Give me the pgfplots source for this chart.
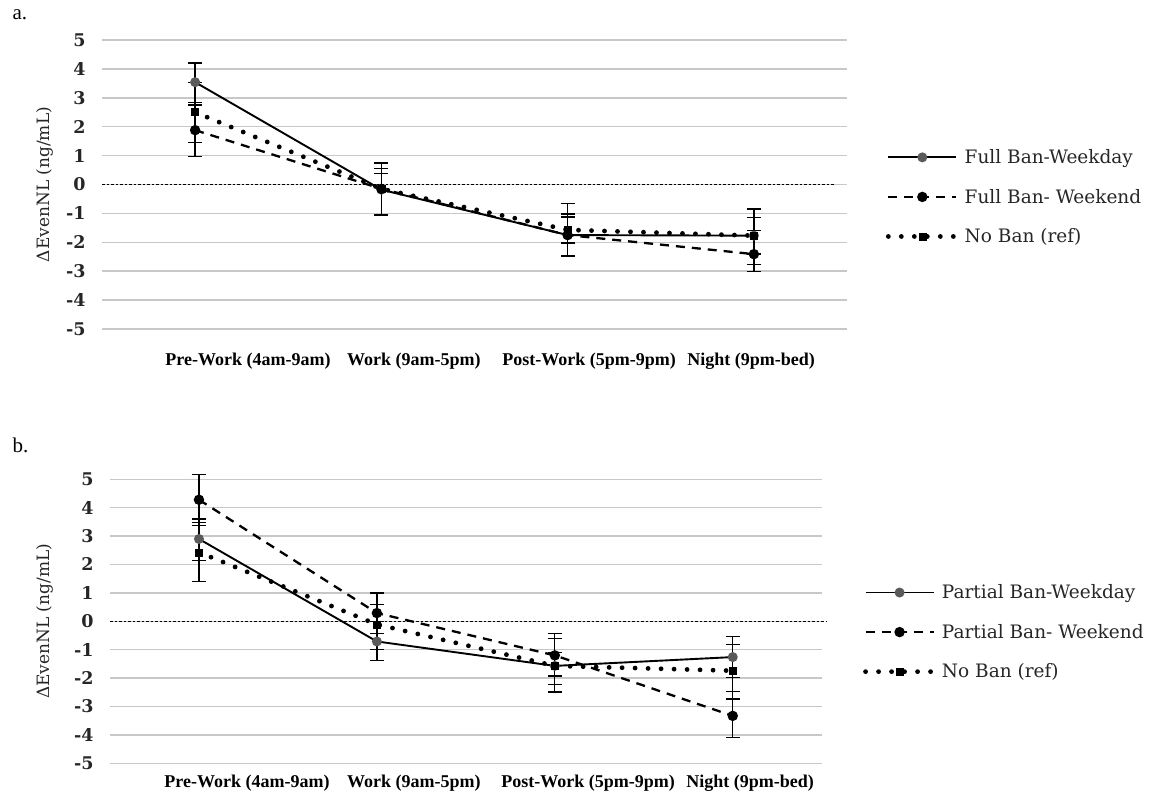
\documentclass[border=0pt]{standalone}
\usepackage{pgfplots}
\pgfplotsset{compat=1.18}
\usepackage{fontspec}
\setmainfont{Liberation Serif}
\newfontfamily\slab{DejaVu Serif}

\definecolor{gridgray}{HTML}{C8C8C8}
\definecolor{markgray}{HTML}{5A5A5A}

\pgfplotsset{
  panel/.style={
    scale only axis,
    clip=false,
    xmin=-0.5, xmax=3.5, ymin=-5, ymax=5,
    axis line style={draw=none},
    tick style={draw=none},
    ymajorgrids,
    grid style={gridgray, line width=1.5pt},
    ytick={-5,-4,...,5},
    /pgf/number format/assume math mode=true,
    yticklabel style={font=\slab\bfseries\fontsize{17.5}{17.5}\selectfont, text=black!85, anchor=east, xshift=-13pt},
    xticklabel style={font=\bfseries\fontsize{18}{18}\selectfont, anchor=center},
    xticklabels={Pre-Work (4am-9am), Work (9am-5pm), Post-Work (5pm-9pm), Night (9pm-bed)},
    ylabel={ΔEvenNL (ng/mL)},
    ylabel style={font=\slab\fontsize{17}{17}\selectfont, text=black!85, anchor=center},
    legend cell align=left,
    legend image code/.code={\draw[mark repeat=2,mark phase=2] plot coordinates {(0pt,0pt) (34pt,0pt) (68pt,0pt)};
      \path (72pt,0pt);},
    legend style={draw=none, fill=none, anchor=west, inner sep=0pt,
      font=\slab\fontsize{18.5}{18.5}\selectfont, text=black!85, row sep=20pt},
    error bars/y dir=both,
    error bars/y explicit,
    error bars/error bar style={solid, black, line width=1.3pt, line cap=butt},
    error bars/error mark options={solid, black, rotate=90, mark size=7pt, line width=1.3pt},
  },
  weekday/.style={black, line width=1.9pt, mark=*, mark size=4pt,
    mark options={solid, fill=markgray, draw=markgray}},
  weekend/.style={black, line width=2.3pt, dash pattern=on 9pt off 7pt, mark=*, mark size=4pt,
    mark options={solid, fill=black, draw=black}},
  noban/.style={black, line width=4.8pt, line cap=round, dash pattern=on 0pt off 13pt,
    mark=square*, mark size=3.5pt, mark options={solid, fill=black, draw=black, line width=0.5pt}},
  zeroline/.style={black, line width=0.9pt, dash pattern=on 2.5pt off 2pt, forget plot},
}

\begin{document}
\begin{tikzpicture}
\path[use as bounding box] (0pt,0pt) rectangle (1157pt,-799pt);

\node[anchor=base west, font=\fontsize{21}{21}\selectfont] at (9pt,-20pt) {a.};
\node[anchor=base west, font=\fontsize{21}{21}\selectfont] at (9pt,-453pt) {b.};

% Panel a: full ban
\begin{axis}[panel,
  at={(102pt,-329pt)}, anchor=south west,
  width=745pt, height=289pt,
  xtick={0.284,1.175,2.115,2.985},
  xticklabel style={yshift=-32pt},
  ylabel style={at={(axis description cs:-0.0765,0.5)}},
  legend style={at={(axis description cs:1.052,0.457)}},
]
\addplot[zeroline] coordinates {(-0.5,0) (3.435,0)};
\addplot[weekday] coordinates {
  (0,3.54)  += (0,0.66) -= (0,0.79)
  (1,-0.18) += (0,0.74) -= (0,0.89)
  (2,-1.75) += (0,0.73) -= (0,0.73)
  (3,-1.77) += (0,0.92) -= (0,0.99)
};
\addlegendentry{Full Ban-Weekday}
\addplot[weekend] coordinates {
  (0,1.88)  += (0,0.95) -= (0,0.91)
  (1,-0.15) += (0,0.89) -= (0,0.90)
  (2,-1.75) += (0,1.10) -= (0,0.70)
  (3,-2.41) += (0,0.82) -= (0,0.59)
};
\addlegendentry{Full Ban- Weekend}
\addplot[noban] coordinates {
  (0,2.50)  += (0,1.04) -= (0,1.04)
  (1,-0.15) += (0,0.54) -= (0,0.88)
  (2,-1.57) += (0,0.45) -= (0,0.45)
  (3,-1.77) += (0,0.62) -= (0,0.63)
};
\addlegendentry{No Ban (ref)}
\end{axis}

% Panel b: partial ban
\begin{axis}[panel,
  at={(110pt,-763.3pt)}, anchor=south west,
  width=711.7pt, height=284pt,
  xtick={0.27,1.208,2.187,3.098},
  xticklabel style={yshift=-20pt},
  ylabel style={at={(axis description cs:-0.0913,0.5)}},
  legend style={at={(axis description cs:1.058,0.462)}},
]
\addplot[zeroline] coordinates {(-0.5,0) (3.53,0)};
\addplot[weekday] coordinates {
  (0,2.90)  += (0,0.59) -= (0,0.76)
  (1,-0.71) += (0,0.71) -= (0,0.67)
  (2,-1.57) += (0,0.97) -= (0,0.92)
  (3,-1.26) += (0,0.73) -= (0,0.73)
};
\addlegendentry{Partial Ban-Weekday}
\addplot[weekend] coordinates {
  (0,4.28)  += (0,0.89) -= (0,0.91)
  (1,0.29)  += (0,0.71) -= (0,0.71)
  (2,-1.20) += (0,0.76) -= (0,0.73)
  (3,-3.33) += (0,0.86) -= (0,0.77)
};
\addlegendentry{Partial Ban- Weekend}
\addplot[noban] coordinates {
  (0,2.43)  += (0,1.17) -= (0,1.02)
  (1,-0.11) += (0,0.69) -= (0,0.89)
  (2,-1.57) += (0,0.47) -= (0,0.66)
  (3,-1.74) += (0,0.92) -= (0,1.00)
};
\addlegendentry{No Ban (ref)}
\end{axis}
\end{tikzpicture}
\end{document}
